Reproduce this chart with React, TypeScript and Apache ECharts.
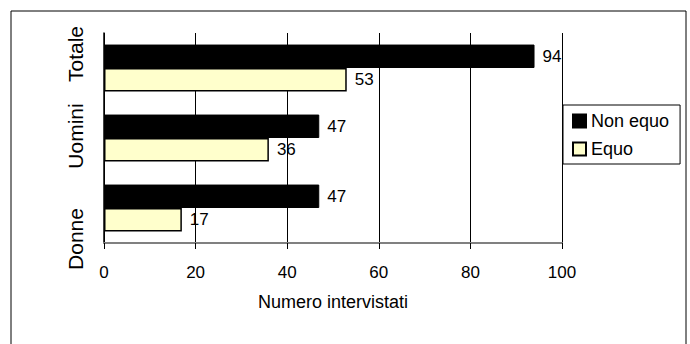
import React, { useEffect, useRef } from "react";
import * as echarts from "echarts";

// Chart data
const categories = ["Donne", "Uomini", "Totale"];
const nonEquo = [47, 47, 94];
const equo = [17, 36, 53];
const seriesNames = ["Non equo", "Equo"];
const xTicks = { min: 0, max: 100, interval: 20 };
const axisTitle = "Numero intervistati";

// Vertical category labels (centre y per category, bottom to top)
const categoryLabelY = [239, 136, 54];

const FONT = "'Liberation Sans', Arial, Helvetica, sans-serif";

export default function App() {
  const ref = useRef<HTMLDivElement>(null);

  useEffect(() => {
    if (!ref.current) return;
    const chart = echarts.init(ref.current, undefined, { renderer: "svg" });

    const labelStyle = {
      show: true,
      position: "right" as const,
      distance: 8,
      color: "#000",
      fontSize: 17,
      fontFamily: FONT,
    };

    chart.setOption({
      animation: false,
      backgroundColor: "#fff",
      textStyle: { fontFamily: FONT },
      grid: { left: 104, top: 33, right: 128, bottom: 101, containLabel: false },
      legend: {
        orient: "vertical",
        left: 563,
        top: 105,
        data: seriesNames,
        icon: "rect",
        itemWidth: 13,
        itemHeight: 13,
        itemGap: 10,
        padding: [7, 11, 6, 9],
        borderColor: "#000",
        borderWidth: 1,
        borderRadius: 0,
        backgroundColor: "#fff",
        textStyle: { fontSize: 18, color: "#000", fontFamily: FONT },
      },
      xAxis: {
        type: "value",
        min: xTicks.min,
        max: xTicks.max,
        interval: xTicks.interval,
        name: axisTitle,
        nameLocation: "middle",
        nameGap: 50,
        nameTextStyle: { fontSize: 18, color: "#000", fontFamily: FONT },
        axisLine: { show: true, lineStyle: { color: "#808080", width: 2 } },
        axisTick: { show: true, length: 6, lineStyle: { color: "#000", width: 1 } },
        axisLabel: { fontSize: 17, color: "#000", margin: 21, fontFamily: FONT },
        splitLine: { show: true, lineStyle: { color: "#000", width: 1 } },
      },
      yAxis: {
        type: "category",
        data: categories,
        axisLine: { show: true, lineStyle: { color: "#000", width: 1.5 } },
        axisTick: { show: false },
        axisLabel: { show: false },
        splitLine: { show: false },
      },
      series: [
        {
          name: seriesNames[0],
          type: "bar",
          data: nonEquo,
          barGap: "0%",
          barCategoryGap: "33%",
          itemStyle: { color: "#000", borderColor: "#000", borderWidth: 1 },
          label: labelStyle,
        },
        {
          name: seriesNames[1],
          type: "bar",
          data: equo,
          barGap: "0%",
          barCategoryGap: "33%",
          itemStyle: { color: "#FFFFCC", borderColor: "#000", borderWidth: 1.5 },
          label: labelStyle,
        },
      ],
      graphic: [
        {
          type: "rect",
          silent: true,
          shape: { x: 11, y: 11, width: 675, height: 345 },
          style: { fill: "none", stroke: "#000", lineWidth: 1 },
          z: -1,
        },
        ...categories.map((c, i) => ({
          type: "text",
          x: 75,
          y: categoryLabelY[i],
          rotation: Math.PI / 2,
          style: {
            text: c,
            fontSize: 21,
            fontFamily: FONT,
            fill: "#000",
            align: "center",
            verticalAlign: "middle",
          },
        })),
      ],
    });

    return () => chart.dispose();
  }, []);

  return (
    <div
      ref={ref}
      style={{ position: "absolute", left: 0, top: 0, width: 690, height: 344 }}
    />
  );
}
